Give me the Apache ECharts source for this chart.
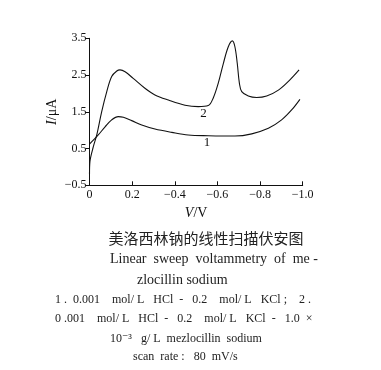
<!DOCTYPE html>
<html>
<head>
<meta charset="utf-8">
<script src="https://cdn.jsdelivr.net/npm/echarts@6/dist/echarts.min.js"></script>
<style>
html,body{margin:0;padding:0;background:#fff;}
#c{width:381px;height:370px;}
</style>
</head>
<body>
<div id="c"></div>
<script>
// Curve 1: 0.001 mol/L HCl - 0.2 mol/L KCl (blank)
const voltage1 = [0, 0.018, 0.041, 0.073, 0.104, 0.135, 0.159, 0.198, 0.245, 0.307, 0.386, 0.463, 0.557, 0.682, 0.761, 0.839, 0.901, 0.948, 0.987];
const current1 = [0.62, 0.73, 0.87, 1.09, 1.28, 1.37, 1.35, 1.26, 1.14, 1.03, 0.94, 0.87, 0.85, 0.84, 0.90, 1.05, 1.28, 1.55, 1.84];
// Curve 2: with 1.0e-3 g/L mezlocillin sodium
const voltage2 = [0, 0.002, 0.018, 0.034, 0.057, 0.081, 0.104, 0.128, 0.143, 0.167, 0.205, 0.26, 0.307, 0.37, 0.448, 0.51, 0.557, 0.58, 0.604, 0.628, 0.651, 0.67, 0.682, 0.693, 0.703, 0.714, 0.745, 0.784, 0.831, 0.886, 0.94, 0.983];
const current2 = [-0.2, 0.14, 0.55, 0.87, 1.50, 2.05, 2.46, 2.61, 2.64, 2.59, 2.41, 2.14, 1.96, 1.82, 1.68, 1.64, 1.67, 1.87, 2.28, 2.82, 3.27, 3.43, 3.27, 2.82, 2.28, 2.05, 1.93, 1.89, 1.93, 2.09, 2.37, 2.64];
const xTickLabels = ['0', '0.2', '\u22120.4', '\u22120.6', '\u22120.8', '\u22121.0'];
const curveLabels = ['1', '2'];
const captionLines = [
  '美洛西林钠的线性扫描伏安图',
  'Linear  sweep  voltammetry  of  me -',
  'zlocillin sodium',
  '1 .  0.001    mol/ L   HCl  -   0.2    mol/ L   KCl ;    2 .',
  '0 .001    mol/ L   HCl  -   0.2    mol/ L   KCl  -   1.0  ×',
  '10\u207B\u00B3   g/ L  mezlocillin  sodium',
  'scan  rate :   80  mV/s'
];

const chart = echarts.init(document.getElementById('c'), null, {renderer: 'canvas'});
const serif = '"Liberation Serif", "DejaVu Serif", serif';
const zip = (a, b) => a.map((v, i) => [v, b[i]]);

const cap = (i, x, y, size, align, fam) => ({
  type: 'text',
  style: {
    text: captionLines[i], x: x, y: y,
    font: size + 'px ' + (fam || serif),
    fill: '#222', textAlign: align, textVerticalAlign: 'middle'
  }
});

chart.setOption({
  animation: false,
  backgroundColor: '#fff',
  grid: {left: 89.5, right: 78.3, top: 38.3, bottom: 184.7, containLabel: false},
  xAxis: {
    type: 'value', min: 0, max: 1, interval: 0.2,
    name: '{i|V}/V', nameLocation: 'middle', nameGap: 21, nameMoveOverlap: false,
    nameTextStyle: {fontFamily: serif, fontSize: 14, color: '#111',
      rich: {i: {fontFamily: serif, fontSize: 14, fontStyle: 'italic', color: '#111'}}},
    axisLine: {show: true, onZero: false, lineStyle: {color: '#111', width: 1}},
    axisTick: {show: true, inside: true, length: 4, lineStyle: {color: '#111'}},
    axisLabel: {fontFamily: serif, fontSize: 12, color: '#111', margin: 4,
      formatter: (v) => xTickLabels[Math.round(v / 0.2)]},
    splitLine: {show: false}
  },
  yAxis: {
    type: 'value', min: -0.5, max: 3.5, interval: 1,
    name: '{i|I}/μA', nameLocation: 'middle', nameGap: 30, nameRotate: 90, nameMoveOverlap: false,
    nameTextStyle: {fontFamily: serif, fontSize: 14, color: '#111',
      rich: {i: {fontFamily: serif, fontSize: 14, fontStyle: 'italic', color: '#111'}}},
    axisLine: {show: true, onZero: false, lineStyle: {color: '#111', width: 1}},
    axisTick: {show: true, inside: false, length: 4, lineStyle: {color: '#111'}},
    axisLabel: {fontFamily: serif, fontSize: 12, color: '#111', margin: 3,
      formatter: (v) => String(v).replace('-', '\u2212')},
    splitLine: {show: false}
  },
  series: [
    {
      type: 'line', data: zip(voltage1, current1), showSymbol: false, smooth: 0.35,
      lineStyle: {color: '#111', width: 1.1},
      markPoint: {symbol: 'circle', symbolSize: 0,
        label: {show: true, formatter: curveLabels[0], fontFamily: serif, fontSize: 13, color: '#111'},
        data: [{coord: [0.551, 0.66]}]}
    },
    {
      type: 'line', data: zip(voltage2, current2), showSymbol: false, smooth: 0.35,
      lineStyle: {color: '#111', width: 1.1},
      markPoint: {symbol: 'circle', symbolSize: 0,
        label: {show: true, formatter: curveLabels[1], fontFamily: serif, fontSize: 13, color: '#111'},
        data: [{coord: [0.535, 1.45]}]}
    }
  ],
  graphic: [
    cap(0, 206, 238, 15, 'center', '"Noto Sans CJK SC", sans-serif'),
    cap(1, 110, 259, 14, 'left'),
    cap(2, 137, 280, 14, 'left'),
    cap(3, 55, 300, 12, 'left'),
    cap(4, 55, 319, 12, 'left'),
    cap(5, 110, 339, 12, 'left'),
    cap(6, 133, 357, 12, 'left')
  ]
});
</script>
</body>
</html>
